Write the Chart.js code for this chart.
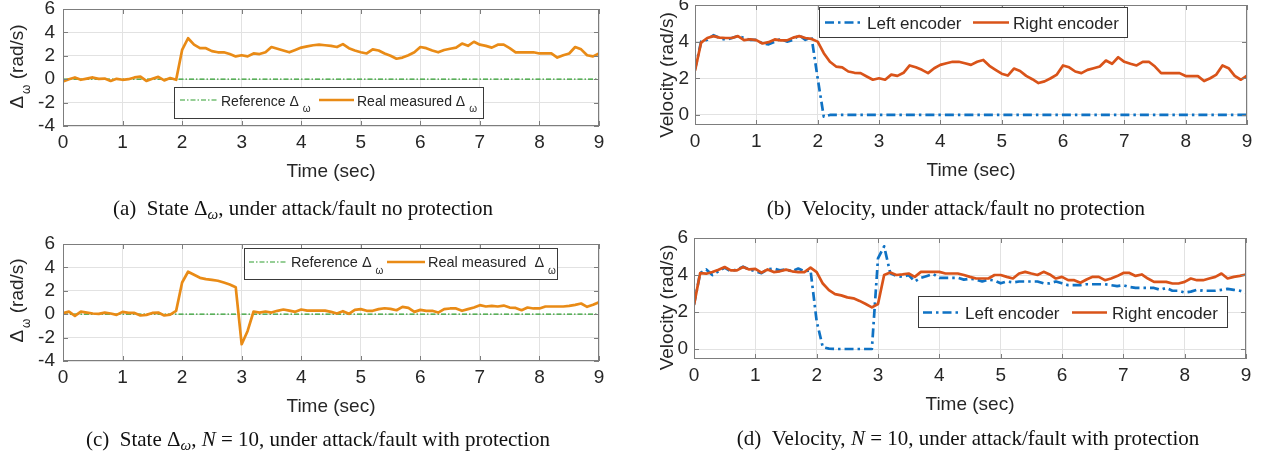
<!DOCTYPE html>
<html><head><meta charset="utf-8">
<script src="https://cdn.jsdelivr.net/npm/chart.js@4.4.1/dist/chart.umd.min.js"></script>
<style>
html,body{margin:0;padding:0;background:#fff;width:1261px;height:454px;overflow:hidden;}
body{position:relative;}
canvas{position:absolute;}
.cap{position:absolute;font-family:"Liberation Serif","Times New Roman",serif;font-size:21px;color:#111;white-space:nowrap;transform:translate(-50%,-50%);line-height:1;}
.cap sub{font-size:0.72em;vertical-align:-0.3em;line-height:0;}
</style></head><body>
<canvas id="ca"></canvas><canvas id="cb"></canvas><canvas id="cc"></canvas><canvas id="cd"></canvas>
<div class="cap" style="left:303px;top:208px">(a)&ensp;State Δ<sub><i>ω</i></sub>, under attack/fault no protection</div>
<div class="cap" style="left:956px;top:208px">(b)&ensp;Velocity, under attack/fault no protection</div>
<div class="cap" style="left:318px;top:439px">(c)&ensp;State Δ<sub><i>ω</i></sub>, <i>N</i> = 10, under attack/fault with protection</div>
<div class="cap" style="left:968px;top:438px">(d)&ensp;Velocity, <i>N</i> = 10, under attack/fault with protection</div>
<script>
// ---------------- DATA ----------------
const time = [0,0.1,0.2,0.3,0.4,0.5,0.6,0.7,0.8,0.9,
  1,1.1,1.2,1.3,1.4,1.5,1.6,1.7,1.8,1.9,
  2,2.1,2.2,2.3,2.4,2.5,2.6,2.7,2.8,2.9,
  3,3.1,3.2,3.3,3.4,3.5,3.6,3.7,3.8,3.9,
  4,4.1,4.2,4.3,4.4,4.5,4.6,4.7,4.8,4.9,
  5,5.1,5.2,5.3,5.4,5.5,5.6,5.7,5.8,5.9,
  6,6.1,6.2,6.3,6.4,6.5,6.6,6.7,6.8,6.9,
  7,7.1,7.2,7.3,7.4,7.5,7.6,7.7,7.8,7.9,
  8,8.1,8.2,8.3,8.4,8.5,8.6,8.7,8.8,8.9,
  9];
const refTime = [0, 9];
const refDelta = [0, 0];

// (a) Real measured delta omega, no protection
const deltaA = [-0.2,0,0.15,-0.05,0.05,0.15,0.03,0.05,-0.15,0.03,
  -0.05,0,0.15,0.22,-0.15,0.03,0.2,-0.1,0.1,-0.05,
  2.5,3.5,2.95,2.65,2.65,2.4,2.3,2.3,2.15,1.95,
  2.05,1.95,2.2,2.15,2.3,2.75,2.6,2.45,2.3,2.5,
  2.7,2.8,2.9,2.95,2.9,2.85,2.75,3.0,2.65,2.45,
  2.3,2.2,2.55,2.45,2.2,2.0,1.75,1.85,2.05,2.3,
  2.75,2.65,2.45,2.3,2.5,2.6,2.7,3.05,2.85,3.2,
  2.95,2.85,2.7,2.95,2.95,2.65,2.3,2.3,2.3,2.3,
  2.2,2.2,2.2,1.85,2.05,2.2,2.75,2.55,2.05,1.95,
  2.2];
// (b) encoders, no protection
const leftB = [2.5,4.0,4.1,4.35,4.2,4.1,4.2,4.3,4.2,4.1,
  4.1,3.9,3.85,4.0,4.15,4.0,4.1,4.35,4.1,4.25,
  2.0,-0.1,0,0,0,0,0,0,0,0,
  0,0,0,0,0,0,0,0,0,0,
  0,0,0,0,0,0,0,0,0,0,
  0,0,0,0,0,0,0,0,0,0,
  0,0,0,0,0,0,0,0,0,0,
  0,0,0,0,0,0,0,0,0,0,
  0,0,0,0,0,0,0,0,0,0,
  0];
const rightB = [2.42,3.95,4.2,4.3,4.22,4.2,4.2,4.3,4.08,4.13,
  4.08,3.9,3.97,4.12,4.07,4.07,4.22,4.3,4.2,4.15,
  4.0,3.37,2.9,2.64,2.6,2.37,2.3,2.28,2.1,1.92,
  2.0,1.92,2.2,2.13,2.3,2.7,2.6,2.46,2.28,2.55,
  2.73,2.82,2.9,2.9,2.82,2.73,2.9,3.0,2.68,2.46,
  2.25,2.15,2.53,2.4,2.13,1.95,1.74,1.83,2.0,2.2,
  2.7,2.6,2.37,2.28,2.46,2.55,2.64,2.97,2.79,3.15,
  2.9,2.79,2.7,2.9,2.9,2.64,2.28,2.28,2.28,2.28,
  2.12,2.12,2.12,1.85,2.0,2.2,2.7,2.55,2.13,1.92,
  2.15];
// (c) Real measured delta omega, with protection
const deltaC = [0.08,0.22,-0.15,0.22,0.14,0.06,0.03,0.14,0.06,-0.06,
  0.2,0.11,0.11,-0.11,-0.06,0.11,0.14,-0.11,-0.03,0.29,
  2.71,3.63,3.37,3.11,3.0,2.94,2.86,2.71,2.54,2.31,
  -2.57,-1.43,0.23,0.14,0.23,0.14,0.29,0.4,0.31,0.2,
  0.4,0.31,0.31,0.31,0.31,0.2,0.06,0.26,0.03,0.37,
  0.43,0.29,0.29,0.43,0.51,0.46,0.34,0.63,0.54,0.2,
  0.37,0.29,0.29,0.14,0.43,0.49,0.49,0.29,0.43,0.57,
  0.77,0.66,0.71,0.66,0.74,0.57,0.54,0.34,0.57,0.49,
  0.49,0.66,0.66,0.66,0.66,0.71,0.8,0.91,0.63,0.8,
  1.03];
// (d) encoders, with protection
const leftD = [2.4,4.1,4.3,4.0,4.2,4.4,4.2,4.3,4.45,4.3,
  4.2,4.1,4.3,4.35,4.25,4.3,4.2,4.35,4.2,4.25,
  1.5,0.1,0.02,0,0,0,0,0,0,0,
  4.9,5.55,4.1,3.95,3.9,4.0,3.65,3.85,3.95,4.05,
  3.85,3.85,3.85,3.85,3.75,3.8,3.75,3.65,3.75,3.7,
  3.55,3.65,3.6,3.65,3.65,3.65,3.65,3.55,3.55,3.65,
  3.55,3.45,3.45,3.45,3.5,3.5,3.5,3.5,3.45,3.4,
  3.45,3.35,3.3,3.3,3.3,3.3,3.2,3.3,3.15,3.15,
  3.05,3.1,3.2,3.15,3.15,3.15,3.2,3.25,3.2,3.15,
  3.05];
const rightD = [2.38,4.1,4.07,4.16,4.29,4.43,4.25,4.25,4.43,4.3,
  4.33,4.13,4.3,4.16,4.2,4.29,4.2,4.16,4.16,4.4,
  4.16,3.54,3.18,2.97,2.9,2.79,2.74,2.6,2.43,2.25,
  2.43,4.0,4.13,4.0,4.03,4.08,3.9,4.17,4.17,4.17,
  4.17,4.08,4.08,4.08,4.0,3.9,3.81,3.81,3.81,4.0,
  4.0,3.9,3.81,4.08,4.17,4.08,4.0,4.17,4.03,3.81,
  3.9,3.72,3.72,3.58,3.76,3.9,3.9,3.72,3.81,3.94,
  4.11,4.11,3.95,4.03,3.81,3.63,3.63,3.63,3.54,3.54,
  3.63,3.81,3.72,3.72,3.81,3.9,4.08,3.81,3.9,3.95,
  4.03];

const xTicks = [0,1,2,3,4,5,6,7,8,9];
const xTickLabels = ['0','1','2','3','4','5','6','7','8','9'];
const yTicksDelta = [-4,-2,0,2,4,6];
const yTickLabelsDelta = ['-4','-2','0','2','4','6'];
const yTicksVel = [0,2,4,6];
const yTickLabelsVel = ['0','2','4','6'];
const xTitle = 'Time (sec)';
const yTitleDelta = {main:'Δ', sub:'ω', rest:' (rad/s)'};
const yTitleVel = {main:'Velocity (rad/s)', sub:'', rest:''};
const legDelta = ['Reference Δ', 'Real measured Δ'];
const legDeltaC = ['Reference Δ', 'Real measured  Δ'];
const legSub = 'ω';
const legVel = ['Left encoder', 'Right encoder'];

// ---------------- STYLE ----------------
const FONT = '"Liberation Sans", Arial, Helvetica, sans-serif';
const C_ORANGE = '#E98B16', C_GREEN = '#2E9E2E', C_BLUE = '#0F72C4', C_RED = '#D95319';
const DASH_REF = [5,2,1.5,2], DASH_LEFT = [9,4,2.5,4];
const TXT = '#262626', BOX = '#7d7d7d', GRID = '#e2e2e2';
const LW = 2.7;

function pts(xs, ys){ return xs.map((x,i)=>({x:x, y:ys[i]})); }

const framePlugin = {
  id:'frame',
  afterDatasetsDraw(chart, args, o){
    const ctx = chart.ctx, a = chart.chartArea, xs = chart.scales.x, ys = chart.scales.y;
    ctx.save();
    ctx.strokeStyle = BOX; ctx.lineWidth = 1;
    ctx.strokeRect(Math.round(a.left)+0.5, Math.round(a.top)+0.5, Math.round(a.right-a.left)-1, Math.round(a.bottom-a.top)-1);
    ctx.beginPath();
    const tl = 5;
    xs.ticks.forEach(t=>{ const p = Math.round(xs.getPixelForValue(t.value))+0.5;
      ctx.moveTo(p, a.bottom); ctx.lineTo(p, a.bottom-tl); ctx.moveTo(p, a.top); ctx.lineTo(p, a.top+tl); });
    ys.ticks.forEach(t=>{ const p = Math.round(ys.getPixelForValue(t.value))+0.5;
      ctx.moveTo(a.left, p); ctx.lineTo(a.left+tl, p); ctx.moveTo(a.right, p); ctx.lineTo(a.right-tl, p); });
    ctx.stroke();
    ctx.restore();
  },
  afterDraw(chart, args, o){
    const ctx = chart.ctx, a = chart.chartArea;
    ctx.save();
    ctx.fillStyle = TXT; ctx.font = o.fontSize+'px '+FONT; ctx.textAlign='center'; ctx.textBaseline='middle';
    ctx.fillText(o.xTitle, (a.left+a.right)/2, a.bottom + o.xTitleDy);
    const yt = o.yTitle;
    ctx.translate(o.yTitleX - o.ox, (a.top+a.bottom)/2 + o.yTitleDy);
    ctx.rotate(-Math.PI/2);
    ctx.textAlign='left'; ctx.textBaseline='alphabetic';
    ctx.font = o.fontSize+'px '+FONT;
    const wMain = ctx.measureText(yt.main).width;
    const wRest = ctx.measureText(yt.rest).width;
    ctx.font = o.subSize+'px '+FONT;
    const wSub = yt.sub ? ctx.measureText(yt.sub).width + 2 : 0;
    let x = -(wMain + wSub + wRest)/2;
    ctx.font = o.fontSize+'px '+FONT; ctx.fillText(yt.main, x, 0); x += wMain;
    if (yt.sub){ ctx.font = o.subSize+'px '+FONT; ctx.fillText(yt.sub, x+2, o.subDrop); x += wSub; }
    ctx.font = o.fontSize+'px '+FONT; ctx.fillText(yt.rest, x, 0);
    ctx.setTransform(1,0,0,1,0,0);
    const lg = o.legend, ox = o.ox, oy = o.oy;
    ctx.fillStyle='#fff'; ctx.fillRect(lg.x-ox, lg.y-oy, lg.w, lg.h);
    ctx.strokeStyle='#3a3a3a'; ctx.lineWidth=1;
    ctx.strokeRect(lg.x-ox+0.5, lg.y-oy+0.5, lg.w-1, lg.h-1);
    lg.items.forEach(it=>{
      ctx.strokeStyle=it.color; ctx.lineWidth=it.width; ctx.setLineDash(it.dash||[]);
      ctx.beginPath(); ctx.moveTo(it.x0-ox, lg.lineY-oy); ctx.lineTo(it.x1-ox, lg.lineY-oy); ctx.stroke();
      ctx.setLineDash([]);
      ctx.fillStyle=TXT; ctx.font=lg.size+'px '+FONT; ctx.textAlign='left'; ctx.textBaseline='alphabetic';
      let tx = it.tx-ox; const ty = lg.baseY-oy;
      ctx.fillText(it.text, tx, ty);
      if (it.sub){ tx += ctx.measureText(it.text).width + lg.subGap; ctx.font=lg.subSize+'px '+FONT; ctx.fillText(it.sub, tx, ty+lg.subDrop); }
    });
    ctx.restore();
  }
};

function makePanel(p){
  const ox = p.L - 63, oy = p.T - 20;
  const W = (p.R - p.L) + 63 + p.rp, H = (p.B - p.T) + 20 + 70;
  const cv = document.getElementById(p.id);
  cv.width = W; cv.height = H;
  cv.style.left = ox+'px'; cv.style.top = oy+'px'; cv.style.width = W+'px'; cv.style.height = H+'px';
  new Chart(cv, {
    type:'line',
    data:{datasets:p.datasets},
    plugins:[framePlugin],
    options:{
      responsive:false, animation:false, devicePixelRatio:1,
      layout:{padding:{left:0, top:20, right:p.rp, bottom:0}},
      elements:{point:{radius:0}, line:{tension:0, borderJoinStyle:'round'}},
      plugins:{legend:{display:false}, tooltip:{enabled:false},
        frame:{ox:ox, oy:oy, fontSize:19, subSize:12, subDrop:7, xTitle:xTitle, xTitleDy:46,
               yTitle:p.yTitle, yTitleX:p.yTitleX, yTitleDy:p.yTitleDy, legend:p.legend}},
      scales:{
        x:{type:'linear', min:0, max:9,
           afterBuildTicks:s=>{ s.ticks = xTicks.map(v=>({value:v})); },
           afterFit:s=>{ s.height = 70; },
           grid:{color:GRID, drawTicks:false}, border:{display:false},
           ticks:{padding:5, color:TXT, font:{family:FONT, size:19}, maxRotation:0, autoSkip:false,
                  callback:(v,i)=>xTickLabels[xTicks.indexOf(v)]}},
        y:{type:'linear', min:p.yMin, max:p.yMax,
           afterBuildTicks:s=>{ s.ticks = p.yTicks.map(v=>({value:v})); },
           afterFit:s=>{ s.width = 63; },
           grid:{color:GRID, drawTicks:false}, border:{display:false},
           ticks:{padding:p.yPad, color:TXT, font:{family:FONT, size:19}, autoSkip:false,
                  callback:(v)=>p.yTickLabels[p.yTicks.indexOf(v)]}}
      }
    }
  });
}

makePanel({id:'ca', L:63, T:9, R:599, B:126, rp:20, yMin:-4, yMax:6, yTicks:yTicksDelta, yTickLabels:yTickLabelsDelta, yPad:8,
  yTitle:yTitleDelta, yTitleX:23, yTitleDy:-1,
  datasets:[
    {data:pts(time, deltaA), borderColor:C_ORANGE, borderWidth:LW, order:0},
    {data:pts(refTime, refDelta), borderColor:C_GREEN, borderWidth:1.2, borderDash:DASH_REF, order:1}],
  legend:{x:174, y:87, w:310, h:32, lineY:100, baseY:106, size:14, subSize:10, subGap:4, subDrop:6, items:[
    {color:C_GREEN, width:1.2, dash:DASH_REF, x0:180, x1:217, tx:221, text:legDelta[0], sub:legSub},
    {color:C_ORANGE, width:LW, x0:319, x1:354, tx:357, text:legDelta[1], sub:legSub}]}
});
makePanel({id:'cb', L:695, T:5, R:1247, B:125, rp:14, yMin:-0.55, yMax:6, yTicks:yTicksVel, yTickLabels:yTickLabelsVel, yPad:6,
  yTitle:yTitleVel, yTitleX:673, yTitleDy:10,
  datasets:[
    {data:pts(time, rightB), borderColor:C_RED, borderWidth:LW, order:0},
    {data:pts(time, leftB), borderColor:C_BLUE, borderWidth:LW, borderDash:DASH_LEFT, order:1}],
  legend:{x:819, y:7, w:309, h:31, lineY:22.5, baseY:29, size:17, subSize:10, subGap:0, subDrop:0, items:[
    {color:C_BLUE, width:LW, dash:DASH_LEFT, x0:825, x1:862, tx:867, text:legVel[0]},
    {color:C_RED, width:LW, x0:973, x1:1009, tx:1013, text:legVel[1]}]}
});
makePanel({id:'cc', L:63, T:244, R:599, B:361, rp:20, yMin:-4, yMax:6, yTicks:yTicksDelta, yTickLabels:yTickLabelsDelta, yPad:8,
  yTitle:yTitleDelta, yTitleX:23, yTitleDy:-2,
  datasets:[
    {data:pts(time, deltaC), borderColor:C_ORANGE, borderWidth:LW, order:0},
    {data:pts(refTime, refDelta), borderColor:C_GREEN, borderWidth:1.2, borderDash:DASH_REF, order:1}],
  legend:{x:244, y:248, w:314, h:32, lineY:262, baseY:267, size:14.5, subSize:10, subGap:4, subDrop:7, items:[
    {color:C_GREEN, width:1.2, dash:DASH_REF, x0:249, x1:286, tx:291, text:legDeltaC[0], sub:legSub},
    {color:C_ORANGE, width:LW, x0:387, x1:425, tx:428, text:legDeltaC[1], sub:legSub}]}
});
makePanel({id:'cd', L:694, T:238, R:1246, B:359, rp:15, yMin:-0.54, yMax:6, yTicks:yTicksVel, yTickLabels:yTickLabelsVel, yPad:6,
  yTitle:yTitleVel, yTitleX:673, yTitleDy:9,
  datasets:[
    {data:pts(time, rightD), borderColor:C_RED, borderWidth:LW, order:0},
    {data:pts(time, leftD), borderColor:C_BLUE, borderWidth:LW, borderDash:DASH_LEFT, order:1}],
  legend:{x:918, y:296, w:310, h:32, lineY:312.5, baseY:319, size:17, subSize:10, subGap:0, subDrop:0, items:[
    {color:C_BLUE, width:LW, dash:DASH_LEFT, x0:923, x1:960, tx:965, text:legVel[0]},
    {color:C_RED, width:LW, x0:1072, x1:1107, tx:1112, text:legVel[1]}]}
});
</script>
</body></html>
